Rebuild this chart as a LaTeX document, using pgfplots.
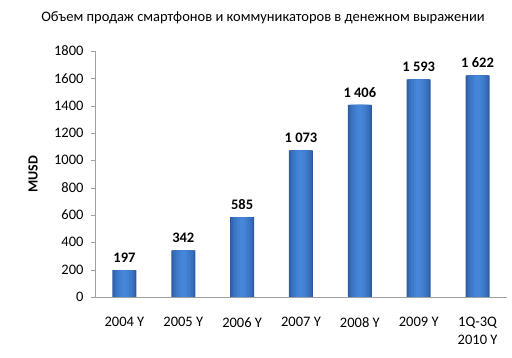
\documentclass[border=0pt]{standalone}
\usepackage{pgfplots}
\pgfplotsset{compat=1.18}
\usepackage{fontspec}
\setmainfont{Carlito}
\definecolor{c1}{HTML}{2C5A9C}
\definecolor{c2}{HTML}{3265B0}
\definecolor{c3}{HTML}{386FBF}
\definecolor{c4}{HTML}{3D78C9}
\definecolor{c5}{HTML}{4280D2}
\definecolor{c6}{HTML}{4685D8}
\definecolor{cap}{HTML}{6FA3E6}
\definecolor{axgray}{HTML}{A0A0A0}
\pgfplotstableread{
x y
0 197
1 342
2 585
3 1073
4 1406
5 1593
6 1622
}\bars
\begin{document}
\begin{tikzpicture}[x=1pt,y=1pt]
\path (0,0) rectangle (512,358);
\node[font=\fontsize{14.5}{16}\selectfont, anchor=center] at (263,340) {Объем продаж смартфонов и коммуникаторов в денежном выражении};
\node[font=\fontsize{14}{16}\selectfont\bfseries, rotate=90] at (33,184) {MUSD};
\begin{axis}[
  at={(95pt,61pt)}, anchor=south west,
  scale only axis, width=412pt, height=246pt,
  xmin=-0.5, xmax=6.5, ymin=0, ymax=1800,
  axis x line*=bottom, axis y line*=left,
  axis line style={axgray},
  tick style={axgray},
  ytick={0,200,...,1800},
  tick align=outside,
  major tick length=4pt,
  xtick={0,...,6},
  xticklabels={2004 Y,2005 Y,2006 Y,2007 Y,2008 Y,2009 Y,{1Q-3Q\\2010 Y}},
  x tick style={draw=none},
  extra x ticks={0.5,1.5,...,5.5},
  extra x tick labels={},
  extra x tick style={tick style={axgray,draw=axgray}, major tick length=4pt},
  xticklabel style={font=\fontsize{14.5}{18}\selectfont, align=center, anchor=north, yshift=-13pt},
  yticklabel style={font=\fontsize{14.5}{16}\selectfont, xshift=-4pt},
  /pgf/number format/assume math mode=true,
  /pgf/number format/1000 sep={},
  clip=false,
]
\addplot[ybar, bar width=24pt, draw=none, fill=c1] table[x=x,y=y] {\bars};
\addplot[ybar, bar width=22pt, draw=none, fill=c2] table[x=x,y=y] {\bars};
\addplot[ybar, bar width=19pt, draw=none, fill=c3] table[x=x,y=y] {\bars};
\addplot[ybar, bar width=15pt, draw=none, fill=c4] table[x=x,y=y] {\bars};
\addplot[ybar, bar width=10pt, draw=none, fill=c5] table[x=x,y=y] {\bars};
\addplot[ybar, bar width=5pt, draw=none, fill=c6] table[x=x,y=y] {\bars};
\addplot[draw=none, only marks, mark=none,
  nodes near coords, point meta=explicit symbolic,
  every node near coord/.append style={font=\fontsize{14.5}{16}\selectfont\bfseries, black, anchor=south, yshift=4pt}]
coordinates {
(0,197) [197]
(1,342) [342]
(2,585) [585]
(3,1073) [1 073]
(4,1406) [1 406]
(5,1593) [1 593]
(6,1622) [1 622]
};
\end{axis}
\end{tikzpicture}
\end{document}
